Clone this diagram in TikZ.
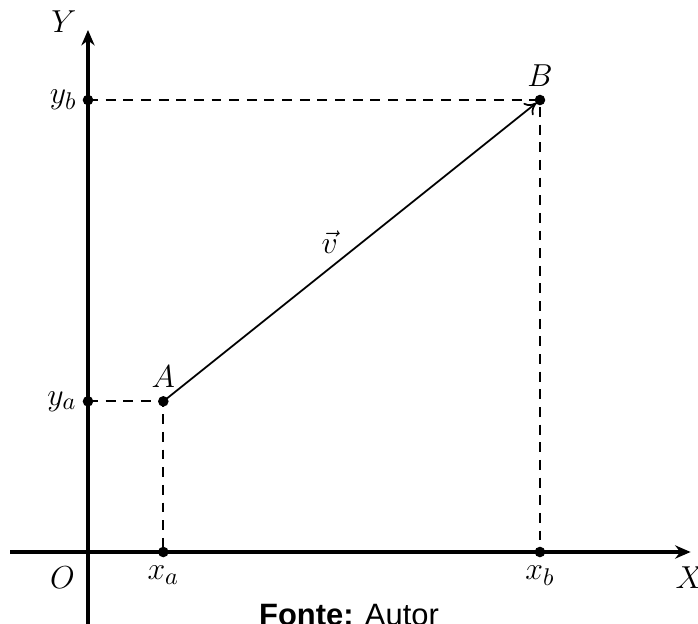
\documentclass[tikz,border=0pt]{standalone}
\usepackage{fontspec}
\newfontfamily\capfont{Liberation Sans}
\usetikzlibrary{arrows.meta}

\begin{document}
\begin{tikzpicture}[x=1.2cm,y=1.2cm]
 \path[use as bounding box] (-1.168,-.943) rectangle (8.098,7.328);
 \tikzset{lbl/.style={font=\fontsize{15}{18}\selectfont,inner sep=6pt}}
 \coordinate (O) at (0,0);
 \coordinate (A) at (1,2);
 \coordinate (B) at (6,6);
 \coordinate (xa) at (1,0);
 \coordinate (xb) at (6,0);
 \coordinate (ya) at (0,2);
 \coordinate (yb) at (0,6);
 \coordinate (xs) at (-1.035,0);
 \coordinate (xe) at (8,0);
 \coordinate (ys) at (0,-1.1);
 \coordinate (ye) at (0,6.93);
 \draw[dash pattern=on 4.5pt off 3.5pt,line width=.9pt] (ya)--(A)--(xa);
 \draw[dash pattern=on 4.5pt off 3.5pt,line width=.9pt] (yb)--(B)--(xb);
 \draw[-{Stealth[length=7pt,width=6pt]},line width=1.5pt] (xs)--(xe);
 \draw[-{Stealth[length=7pt,width=6pt]},line width=1.5pt] (ys)--(ye);
 \draw[-{To[length=5pt,width=7pt]},line width=.8pt,shorten >=2pt] (A)--(B);
 \foreach \p in {A,B,xa,xb,ya,yb}{\fill (\p) circle[radius=2.4pt];}
 \node[lbl] at (3.21,4.11){$\vec{v}$};
 \node[lbl,above] at (A){$A$};
 \node[lbl,above] at (B){$B$};
 \node[lbl,left,inner sep=5pt] at (ya){$y_a$};
 \node[lbl,left,inner sep=5pt] at (yb){$y_b$};
 \node[lbl,below] at (xa){$x_a$};
 \node[lbl,below] at (xb){$x_b$};
 \node[lbl] at (-.34,-.345){$O$};
 \node[lbl] at (-.32,7.04){$Y$};
 \node[lbl] at (7.99,-.345){$X$};
 \node[anchor=base,font=\capfont\fontsize{14}{17}\selectfont] at (3.465,-.982){\textbf{Fonte:} Autor};
\end{tikzpicture}
\end{document}
